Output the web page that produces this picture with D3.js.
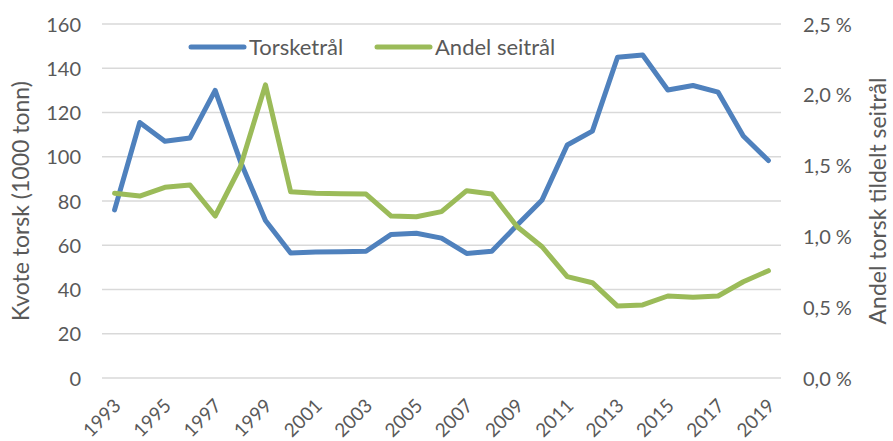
<!DOCTYPE html>
<html>
<head>
<meta charset="utf-8">
<script src="https://cdn.jsdelivr.net/npm/d3@7"></script>
<style>
  body { margin: 0; background: #fff; }
  text { font-family: Lato, "Open Sans", sans-serif; fill: #595959; }
</style>
</head>
<body>
<div id="chart"></div>
<script>
// Kvote torsk (venstre akse) og andel seitrål (høyre akse)
const years = d3.range(1993, 2020);
const torsketral = [76, 115.5, 107, 108.5, 130, 98, 71.2, 56.5, 57, 57.1, 57.3, 64.9, 65.4, 63.2, 56.3, 57.3, 69, 80.5, 105.3, 111.6, 145, 146, 130.2, 132.2, 129.2, 109.4, 98.3];
const andelSeitral = [1.304, 1.285, 1.347, 1.363, 1.144, 1.49, 2.07, 1.316, 1.304, 1.302, 1.299, 1.144, 1.139, 1.175, 1.323, 1.3, 1.07, 0.927, 0.716, 0.673, 0.508, 0.516, 0.579, 0.57, 0.579, 0.68, 0.758];
const leftTicks = [0, 20, 40, 60, 80, 100, 120, 140, 160];
const rightTicks = [0, 0.5, 1.0, 1.5, 2.0, 2.5];
const yearLabels = years.filter((d) => (d - 1993) % 2 === 0);

const width = 893;
const height = 441;
const margin = { left: 102, right: 112, top: 24, bottom: 63 };

const svg = d3.select('#chart').append('svg').attr('width', width).attr('height', height);

const x = d3
  .scalePoint()
  .domain(years)
  .range([margin.left, width - margin.right])
  .padding(0.5);

const yLeft = d3.scaleLinear().domain([0, 160]).range([height - margin.bottom, margin.top]);
const yRight = d3.scaleLinear().domain([0, 2.5]).range([height - margin.bottom, margin.top]);

// gridlines
svg
  .append('g')
  .selectAll('line')
  .data(leftTicks)
  .join('line')
  .attr('x1', margin.left)
  .attr('x2', width - margin.right)
  .attr('y1', (d) => yLeft(d))
  .attr('y2', (d) => yLeft(d))
  .attr('stroke', '#d9d9d9')
  .attr('stroke-width', 1.3);

// left axis
const leftAxis = svg
  .append('g')
  .attr('transform', `translate(${margin.left - 21}, 0)`)
  .call(d3.axisLeft(yLeft).tickValues(leftTicks).tickSize(0).tickPadding(0));
leftAxis.select('.domain').remove();
leftAxis.selectAll('text').style('font-size', '20px').attr('dy', '0.35em');

// right axis
const rightAxis = svg
  .append('g')
  .attr('transform', `translate(${width - margin.right + 22}, 0)`)
  .call(
    d3
      .axisRight(yRight)
      .tickValues(rightTicks)
      .tickSize(0)
      .tickPadding(0)
      .tickFormat((d) => d3.format('.1f')(d).replace('.', ',') + '\u00a0%'),
  );
rightAxis.select('.domain').remove();
rightAxis.selectAll('text').style('font-size', '20px').attr('dy', '0.35em');

// x axis labels
const xAxis = svg
  .append('g')
  .attr('transform', `translate(0, ${height - margin.bottom})`)
  .call(d3.axisBottom(x).tickValues(yearLabels).tickSize(0).tickPadding(0));
xAxis.select('.domain').remove();
xAxis
  .selectAll('text')
  .style('font-size', '19px')
  .style('text-anchor', 'end')
  .attr('dy', '0')
  .attr('transform', 'translate(7, 29) rotate(-45)');

// axis titles
svg
  .append('text')
  .attr('transform', `translate(29, ${(margin.top + height - margin.bottom) / 2}) rotate(-90)`)
  .style('text-anchor', 'middle')
  .style('font-size', '23px')
  .text('Kvote torsk (1000 tonn)');

svg
  .append('text')
  .attr('transform', `translate(886, ${(margin.top + height - margin.bottom) / 2}) rotate(-90)`)
  .style('text-anchor', 'middle')
  .style('font-size', '23px')
  .text('Andel torsk tildelt seitrål');

// lines
const blueLine = d3
  .line()
  .x((d, i) => x(years[i]))
  .y((d) => yLeft(d));
const greenLine = d3
  .line()
  .x((d, i) => x(years[i]))
  .y((d) => yRight(d));

svg
  .append('path')
  .datum(torsketral)
  .attr('fill', 'none')
  .attr('stroke', '#4f81bd')
  .attr('stroke-width', 5)
  .attr('stroke-linejoin', 'round')
  .attr('stroke-linecap', 'round')
  .attr('d', blueLine);

svg
  .append('path')
  .datum(andelSeitral)
  .attr('fill', 'none')
  .attr('stroke', '#9bbb59')
  .attr('stroke-width', 5)
  .attr('stroke-linejoin', 'round')
  .attr('stroke-linecap', 'round')
  .attr('d', greenLine);

// legend
const legend = [
  { name: 'Torsketrål', color: '#4f81bd', x: 191 },
  { name: 'Andel seitrål', color: '#9bbb59', x: 377 },
];
const lg = svg.append('g').selectAll('g').data(legend).join('g');
lg.append('line')
  .attr('x1', (d) => d.x)
  .attr('x2', (d) => d.x + 53)
  .attr('y1', 47)
  .attr('y2', 47)
  .attr('stroke', (d) => d.color)
  .attr('stroke-width', 5)
  .attr('stroke-linecap', 'round');
lg.append('text')
  .attr('x', (d) => d.x + 58)
  .attr('y', 47)
  .attr('dy', '0.35em')
  .style('font-size', '22px')
  .text((d) => d.name);
</script>
</body>
</html>
